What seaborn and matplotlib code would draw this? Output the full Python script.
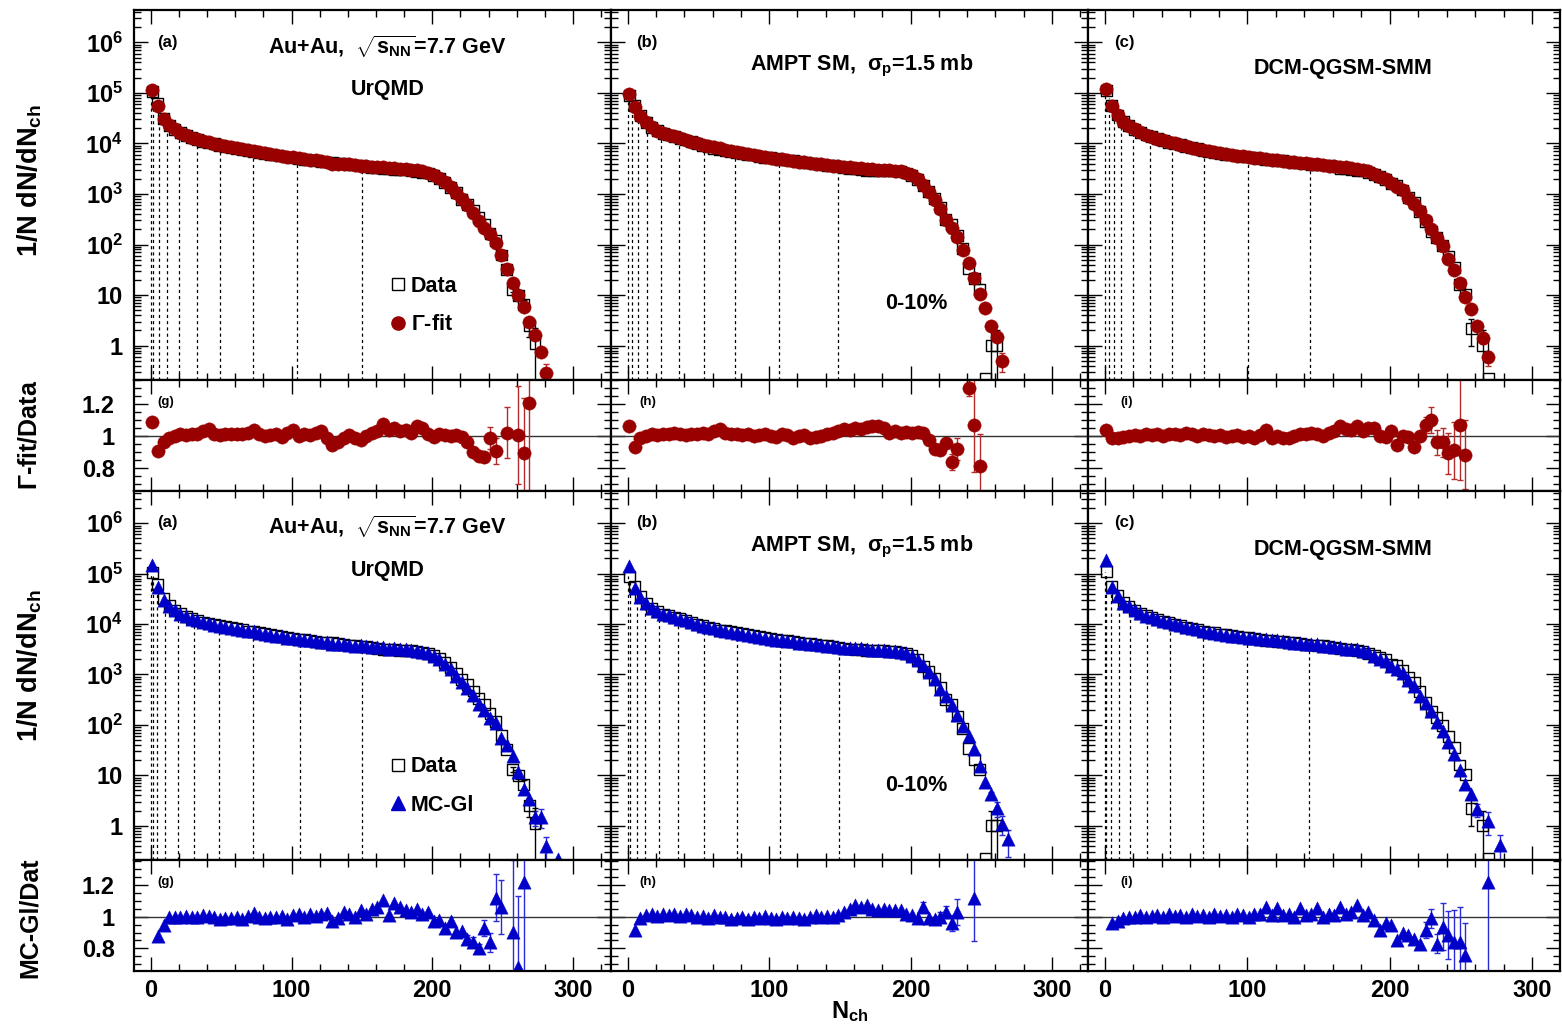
import numpy as np
import pandas as pd
import matplotlib
matplotlib.use("Agg")
import matplotlib.pyplot as plt
import seaborn as sns
from matplotlib.lines import Line2D
from matplotlib.ticker import FixedLocator, MultipleLocator, LogLocator, NullFormatter, FixedFormatter

nan = np.nan

# ------------------------------------------------------------------ data
N_ch = [1, 5, 9, 13, 17, 21, 25, 29, 33, 37,
        41, 45, 49, 53, 57, 61, 65, 69, 73, 77,
        81, 85, 89, 93, 97, 101, 105, 109, 113, 117,
        121, 125, 129, 133, 137, 141, 145, 149, 153, 157,
        161, 165, 169, 173, 177, 181, 185, 189, 193, 197,
        201, 205, 209, 213, 217, 221, 225, 229, 233, 237,
        241, 245, 249, 253, 257, 261, 265, 269, 273, 277,
        281, 285, 289]

# ---- UrQMD
urqmd_data = [1.05e5, 6.1e4, 3.15e4, 2.3e4, 1.9e4, 1.62e4, 1.44e4, 1.3e4, 1.2e4, 1.1e4,
              1.02e4, 9.8e3, 9.3e3, 8.8e3, 8.4e3, 8.0e3, 7.7e3, 7.3e3, 7.0e3, 6.7e3,
              6.45e3, 6.15e3, 5.9e3, 5.65e3, 5.4e3, 5.15e3, 5.05e3, 4.85e3, 4.7e3, 4.55e3,
              4.35e3, 4.3e3, 4.25e3, 4.1e3, 3.95e3, 3.85e3, 3.75e3, 3.65e3, 3.55e3, 3.4e3,
              3.3e3, 3.15e3, 3.15e3, 3.1e3, 3.05e3, 3.0e3, 2.95e3, 2.8e3, 2.7e3, 2.6e3,
              2.35e3, 2.05e3, 1.7e3, 1.35e3, 1.05e3, 790, 630, 470, 340, 250,
              165, 118, 62, 32, 13, 10, 6.5, 2.5, 1.1, nan,
              nan, nan, nan]
urqmd_data_err = {257: 1.5, 261: 1.5, 265: 1.5, 269: 1.0, 273: 1.1}
urqmd_gfit = [1.15e5, 5.5e4, 3.05e4, 2.3e4, 1.9e4, 1.63e4, 1.45e4, 1.31e4, 1.21e4, 1.13e4,
              1.07e4, 9.9e3, 9.35e3, 8.9e3, 8.5e3, 8.1e3, 7.8e3, 7.45e3, 7.2e3, 6.8e3,
              6.45e3, 6.2e3, 5.95e3, 5.6e3, 5.5e3, 5.3e3, 5.05e3, 4.9e3, 4.75e3, 4.65e3,
              4.5e3, 4.25e3, 4.0e3, 3.95e3, 3.9e3, 3.85e3, 3.7e3, 3.55e3, 3.55e3, 3.45e3,
              3.4e3, 3.4e3, 3.3e3, 3.25e3, 3.15e3, 3.1e3, 3.0e3, 3.0e3, 2.85e3, 2.65e3,
              2.35e3, 2.05e3, 1.7e3, 1.35e3, 1.05e3, 790, 610, 420, 295, 215,
              160, 105, 62, 33, 17, 10, 5.8, 3.0, 1.6, 0.75,
              0.29, nan, nan]
urqmd_gfit_err = {281: 0.15}
urqmd_gfit_ratio = [1.085, 0.905, 0.965, 0.99, 1.0, 1.01, 1.005, 1.01, 1.01, 1.03,
                    1.045, 1.01, 1.005, 1.01, 1.01, 1.015, 1.01, 1.02, 1.035, 1.01,
                    1.0, 1.005, 1.01, 0.995, 1.02, 1.035, 1.0, 1.01, 1.005, 1.02,
                    1.03, 0.985, 0.945, 0.96, 0.99, 1.005, 0.99, 0.975, 1.0, 1.02,
                    1.03, 1.075, 1.04, 1.05, 1.03, 1.04, 1.02, 1.06, 1.05, 1.01,
                    0.995, 1.01, 1.005, 1.0, 1.005, 0.995, 0.96, 0.9, 0.875, 0.865,
                    0.985, 0.905, nan, 1.02, nan, 1.006, 0.89, 1.21, nan, nan,
                    nan, nan, nan]
urqmd_gfit_ratio_err = {229: 0.02, 233: 0.03, 237: 0.03, 241: 0.07, 245: 0.08,
                        253: 0.16, 261: 0.31, 265: 0.35, 269: 0.6}
urqmd_mcgl = [1.5e5, 5.35e4, 2.98e4, 2.29e4, 1.89e4, 1.62e4, 1.45e4, 1.29e4, 1.2e4, 1.11e4,
              1.03e4, 9.8e3, 9.15e3, 8.7e3, 8.3e3, 8.0e3, 7.6e3, 7.35e3, 7.2e3, 6.7e3,
              6.4e3, 6.1e3, 5.9e3, 5.7e3, 5.3e3, 5.2e3, 5.15e3, 4.85e3, 4.75e3, 4.55e3,
              4.45e3, 4.4e3, 4.1e3, 4.05e3, 4.05e3, 3.9e3, 3.75e3, 3.8e3, 3.6e3, 3.55e3,
              3.5e3, 3.5e3, 3.2e3, 3.35e3, 3.25e3, 3.15e3, 3.05e3, 2.95e3, 2.75e3, 2.7e3,
              2.3e3, 2.0e3, 1.58e3, 1.3e3, 950, 720, 540, 400, 260, 200,
              140, 110, 56, 40, 24, 11.6, 5.3, 3.4, 1.5, 1.5,
              0.39, nan, 0.22]
urqmd_mcgl_err = {273: 0.5, 277: 0.6, 281: 0.2}
urqmd_mcgl_ratio = [nan, 0.877, 0.947, 0.996, 0.995, 1.0, 1.005, 0.995, 1.0, 1.01,
                    1.005, 1.0, 0.985, 0.99, 0.99, 1.0, 0.985, 1.005, 1.025, 1.0,
                    0.99, 0.995, 1.0, 1.005, 0.985, 1.01, 1.02, 1.0, 1.015, 1.005,
                    1.02, 1.025, 0.97, 0.99, 1.03, 1.015, 1.0, 1.04, 1.02, 1.05,
                    1.06, 1.105, 1.01, 1.085, 1.06, 1.045, 1.03, 1.05, 1.02, 1.03,
                    0.97, 0.98, 0.926, 0.97, 0.905, 0.91, 0.862, 0.84, 0.8, 0.926,
                    0.84, 1.12, 1.06, nan, 0.905, 0.68, 1.22, nan, nan, nan,
                    nan, nan, nan]
urqmd_mcgl_ratio_err = {225: 0.02, 229: 0.03, 233: 0.03, 237: 0.05, 241: 0.06,
                        245: 0.15, 249: 0.17, 257: 0.45, 261: 0.45, 265: 0.6}
urqmd_cuts_gfit = [0, 1.2, 5.9, 11.1, 19.9, 33.1, 49.2, 72.6, 103.8, 150.1]
urqmd_cuts_gfit_top = [1.05e5, 9e4, 4.6e4, 2.8e4, 1.75e4, 1.2e4, 9.4e3, 7.1e3, 5.2e3, 3.6e3]
urqmd_cuts_mcgl = [0, 1.2, 4.5, 9.7, 19.0, 30.5, 48.5, 72.6, 105.7, 150.0]
urqmd_cuts_mcgl_top = [1.05e5, 9e4, 5.8e4, 3.1e4, 1.8e4, 1.25e4, 9.4e3, 7.1e3, 5.1e3, 3.6e3]

# ---- AMPT
ampt_data = [8.75e4, 5.6e4, 3.55e4, 2.6e4, 2.08e4, 1.79e4, 1.58e4, 1.47e4, 1.35e4, 1.27e4,
             1.17e4, 1.08e4, 9.85e3, 9.2e3, 8.7e3, 8.1e3, 7.6e3, 7.35e3, 7.0e3, 6.7e3,
             6.45e3, 6.15e3, 5.9e3, 5.6e3, 5.35e3, 5.2e3, 5.0e3, 4.8e3, 4.7e3, 4.55e3,
             4.35e3, 4.2e3, 4.1e3, 3.95e3, 3.85e3, 3.7e3, 3.6e3, 3.45e3, 3.3e3, 3.2e3,
             3.15e3, 3.1e3, 2.95e3, 2.95e3, 2.95e3, 2.95e3, 2.85e3, 2.85e3, 2.75e3, 2.6e3,
             2.35e3, 1.95e3, 1.47e3, 1.13e3, 830, 550, 315, 250, 150, 85,
             34, 21, 13, 0.22, 1.0, 1.0, nan, nan, nan, nan,
             nan, nan, nan]
ampt_data_err = {257: 0.999, 261: 0.999}
ampt_gfit = [9.3e4, 5.2e4, 3.5e4, 2.6e4, 2.1e4, 1.8e4, 1.6e4, 1.48e4, 1.38e4, 1.28e4,
             1.18e4, 1.09e4, 1.0e4, 9.4e3, 8.8e3, 8.35e3, 7.95e3, 7.5e3, 7.1e3, 6.8e3,
             6.5e3, 6.2e3, 5.9e3, 5.65e3, 5.4e3, 5.2e3, 5.0e3, 4.85e3, 4.7e3, 4.5e3,
             4.35e3, 4.2e3, 4.05e3, 3.95e3, 3.85e3, 3.75e3, 3.65e3, 3.55e3, 3.45e3, 3.35e3,
             3.3e3, 3.2e3, 3.15e3, 3.1e3, 3.05e3, 3.0e3, 2.95e3, 2.9e3, 2.8e3, 2.65e3,
             2.4e3, 2.0e3, 1.5e3, 1.1e3, 760, 500, 300, 210, 140, 78,
             44, 22, 10.5, 5.5, 2.5, 1.5, 0.5, nan, nan, nan,
             nan, nan, nan]
ampt_gfit_err = {265: 0.2}
ampt_gfit_ratio = [1.063, 0.932, 0.985, 1.0, 1.01, 1.005, 1.015, 1.01, 1.02, 1.01,
                   1.005, 1.01, 1.015, 1.02, 1.01, 1.03, 1.045, 1.02, 1.01, 1.015,
                   1.005, 1.01, 1.0, 1.005, 1.01, 1.0, 0.995, 1.01, 1.005, 0.99,
                   1.0, 1.005, 0.99, 0.995, 1.0, 1.01, 1.02, 1.03, 1.045, 1.04,
                   1.05, 1.045, 1.055, 1.06, 1.065, 1.05, 1.02, 1.03, 1.02, 1.025,
                   1.02, 1.025, 1.02, 0.975, 0.92, 0.91, 0.955, 0.835, 0.92, nan,
                   1.3, 1.07, 0.81, nan, nan, nan, nan, nan, nan, nan,
                   nan, nan, nan]
ampt_gfit_ratio_err = {213: 0.02, 217: 0.02, 221: 0.03, 225: 0.03, 229: 0.05,
                       233: 0.07, 241: 0.05, 245: 0.3, 249: 0.2}
ampt_mcgl = [1.4e5, 5.1e4, 3.5e4, 2.63e4, 2.1e4, 1.8e4, 1.6e4, 1.48e4, 1.37e4, 1.28e4,
             1.19e4, 1.09e4, 9.85e3, 9.25e3, 8.6e3, 8.2e3, 7.55e3, 7.35e3, 6.9e3, 6.65e3,
             6.45e3, 6.05e3, 5.85e3, 5.55e3, 5.4e3, 5.15e3, 4.9e3, 4.8e3, 4.65e3, 4.55e3,
             4.3e3, 4.15e3, 4.1e3, 4.0e3, 3.85e3, 3.7e3, 3.6e3, 3.5e3, 3.4e3, 3.35e3,
             3.4e3, 3.3e3, 3.15e3, 3.1e3, 3.05e3, 3.1e3, 2.95e3, 2.95e3, 2.85e3, 2.65e3,
             2.35e3, 1.95e3, 1.55e3, 1.1e3, 820, 520, 380, 250, 160, 95,
             60, 33, 15, 7.5, 4.2, 2.2, 1.1, 0.54, nan, nan,
             nan, nan, nan]
ampt_mcgl_err = {257: 0.5, 261: 0.7, 265: 0.45, 269: 0.3}
ampt_mcgl_ratio = [nan, 0.915, 0.99, 1.01, 1.015, 1.005, 1.02, 1.01, 1.015, 1.005,
                   1.02, 1.01, 1.0, 1.005, 0.99, 1.01, 0.995, 1.0, 0.985, 0.99,
                   1.0, 0.985, 0.995, 0.99, 1.005, 0.99, 0.985, 0.995, 0.99, 1.0,
                   0.99, 0.985, 1.0, 1.01, 0.995, 1.005, 1.0, 1.01, 1.03, 1.05,
                   1.074, 1.06, 1.074, 1.05, 1.04, 1.05, 1.04, 1.045, 1.04, 1.02,
                   1.01, 0.99, 1.063, 0.99, 0.985, 1.0, 1.03, 0.958, 1.03, nan,
                   nan, 1.116, nan, nan, nan, nan, nan, nan, nan, nan,
                   nan, nan, nan]
ampt_mcgl_ratio_err = {209: 0.03, 221: 0.03, 225: 0.04, 229: 0.05, 233: 0.08, 245: 0.27}
ampt_cuts_gfit = [0.4, 2.8, 7.5, 13.4, 23.5, 36.5, 53.7, 76.0, 107.0, 148.4]
ampt_cuts_gfit_top = [8.8e4, 7e4, 3.9e4, 2.6e4, 1.7e4, 1.3e4, 9.4e3, 6.9e3, 5.0e3, 3.6e3]
ampt_cuts_mcgl = [0.4, 1.6, 6.6, 12.4, 22.3, 35.3, 53.7, 77.0, 108.0, 149.5]
ampt_cuts_mcgl_top = [8.8e4, 8e4, 4.3e4, 2.7e4, 1.8e4, 1.3e4, 9.3e3, 6.8e3, 4.9e3, 3.5e3]

# ---- DCM-QGSM-SMM
dcm_data = [1.125e5, 5.6e4, 3.65e4, 2.7e4, 2.25e4, 1.9e4, 1.65e4, 1.47e4, 1.36e4, 1.24e4,
            1.15e4, 1.06e4, 9.85e3, 9.35e3, 8.6e3, 8.2e3, 7.8e3, 7.3e3, 6.95e3, 6.7e3,
            6.35e3, 6.1e3, 5.9e3, 5.65e3, 5.55e3, 5.4e3, 5.25e3, 5.0e3, 4.7e3, 4.8e3,
            4.6e3, 4.55e3, 4.4e3, 4.25e3, 4.1e3, 4.0e3, 3.85e3, 3.8e3, 3.75e3, 3.6e3,
            3.45e3, 3.25e3, 3.2e3, 3.1e3, 2.95e3, 2.9e3, 2.65e3, 2.4e3, 2.2e3, 1.95e3,
            1.6e3, 1.5e3, 1.2e3, 855, 690, 460, 280, 182, 140, 96,
            58, 35, 16, 10.5, 2.2, nan, 1.0, 0.22, nan, nan,
            nan, nan, nan]
dcm_data_err = {257: 1.2, 265: 0.999}
dcm_gfit = [1.17e5, 5.5e4, 3.6e4, 2.7e4, 2.25e4, 1.9e4, 1.65e4, 1.48e4, 1.37e4, 1.25e4,
            1.15e4, 1.07e4, 1.0e4, 9.4e3, 8.8e3, 8.3e3, 7.8e3, 7.35e3, 7.0e3, 6.7e3,
            6.4e3, 6.1e3, 5.9e3, 5.7e3, 5.55e3, 5.4e3, 5.2e3, 5.05e3, 4.9e3, 4.75e3,
            4.6e3, 4.5e3, 4.35e3, 4.25e3, 4.15e3, 4.05e3, 3.95e3, 3.85e3, 3.75e3, 3.65e3,
            3.55e3, 3.45e3, 3.35e3, 3.25e3, 3.15e3, 3.0e3, 2.8e3, 2.5e3, 2.2e3, 1.95e3,
            1.65e3, 1.4e3, 1.2e3, 850, 640, 460, 300, 200, 135, 92,
            52, 32, 17, 9.3, 5.2, 2.4, 1.4, 0.6, nan, nan,
            nan, nan, nan]
dcm_gfit_err = {265: 0.3, 269: 0.2}
dcm_gfit_ratio = [1.04, 0.985, 0.99, 0.995, 1.0, 1.005, 1.0, 1.01, 1.005, 1.01,
                  1.0, 1.01, 1.015, 1.005, 1.02, 1.01, 1.0, 1.01, 1.005, 1.0,
                  1.005, 0.995, 1.0, 1.005, 0.995, 1.0, 0.99, 1.005, 1.04, 0.985,
                  1.0, 0.985, 0.99, 1.0, 1.01, 1.015, 1.02, 1.015, 1.0, 1.02,
                  1.03, 1.06, 1.045, 1.04, 1.06, 1.03, 1.05, 1.05, 1.0, 0.995,
                  1.03, 0.94, 1.0, 0.995, 0.93, 1.0, 1.07, 1.1, 0.96, 0.96,
                  0.89, 0.91, 1.07, 0.883, nan, nan, nan, nan, nan, nan,
                  nan, nan, nan]
dcm_gfit_ratio_err = {225: 0.05, 229: 0.08, 233: 0.08, 237: 0.09, 241: 0.13,
                      245: 0.18, 249: 0.35, 253: 0.22}
dcm_mcgl = [1.9e5, 5.35e4, 3.55e4, 2.67e4, 2.25e4, 1.89e4, 1.67e4, 1.47e4, 1.37e4, 1.25e4,
            1.15e4, 1.08e4, 9.9e3, 9.45e3, 8.6e3, 8.35e3, 7.85e3, 7.35e3, 6.95e3, 6.8e3,
            6.4e3, 6.15e3, 5.9e3, 5.75e3, 5.6e3, 5.4e3, 5.3e3, 5.1e3, 5.0e3, 4.85e3,
            4.85e3, 4.6e3, 4.5e3, 4.25e3, 4.3e3, 4.05e3, 3.95e3, 4.0e3, 3.75e3, 3.65e3,
            3.5e3, 3.45e3, 3.25e3, 3.2e3, 3.15e3, 2.95e3, 2.75e3, 2.35e3, 2.0e3, 1.85e3,
            1.5e3, 1.28e3, 1.08e3, 760, 590, 380, 270, 190, 115, 75,
            45, 26, 13, 6.8, 4.2, 2.1, nan, 1.25, nan, 0.41,
            nan, nan, nan]
dcm_mcgl_err = {261: 0.6, 269: 0.6, 277: 0.25}
dcm_mcgl_ratio = [nan, 0.958, 0.975, 0.99, 1.0, 0.995, 1.01, 1.0, 1.005, 1.01,
                  1.0, 1.015, 1.005, 1.01, 1.0, 1.02, 1.005, 1.01, 1.0, 1.015,
                  1.005, 1.01, 1.0, 1.02, 1.01, 1.0, 1.015, 1.02, 1.063, 1.01,
                  1.053, 1.01, 1.02, 1.0, 1.053, 1.01, 1.02, 1.053, 1.0, 1.02,
                  1.01, 1.063, 1.02, 1.03, 1.074, 1.01, 1.03, 0.98, 0.915, 0.96,
                  0.947, 0.85, 0.9, 0.884, 0.86, 0.83, 0.915, 0.99, 0.83, 0.937,
                  0.884, 0.84, 0.84, 0.757, nan, nan, nan, 1.22, nan, nan,
                  nan, nan, nan]
dcm_mcgl_ratio_err = {225: 0.05, 229: 0.06, 233: 0.06, 237: 0.15, 241: 0.15,
                      245: 0.2, 249: 0.22, 253: 0.2, 269: 0.6}
dcm_cuts_gfit = [0.4, 2.8, 6.5, 11.2, 19.8, 32.0, 47.4, 69.6, 100.5, 143.8]
dcm_cuts_gfit_top = [1.1e5, 8e4, 4.8e4, 3.1e4, 2.0e4, 1.4e4, 1.02e4, 7.3e3, 5.4e3, 4.0e3]
dcm_cuts_mcgl = [0.4, 1.1, 4.6, 9.8, 18.0, 29.7, 46.0, 69.0, 99.8, 143.0]
dcm_cuts_mcgl_top = [1.1e5, 1.0e5, 5.8e4, 3.5e4, 2.1e4, 1.45e4, 1.05e4, 7.3e3, 5.4e3, 4.0e3]

# ---- labels
panel_tags_top = ["(a)", "(b)", "(c)"]
panel_tags_ratio = ["(g)", "(h)", "(i)"]
spec_ticks = [1, 10, 100, 1e3, 1e4, 1e5, 1e6]
spec_tick_labels = ["1", "10", r"$10^{2}$", r"$10^{3}$", r"$10^{4}$", r"$10^{5}$", r"$10^{6}$"]
ratio_ticks = [0.8, 1.0, 1.2]
ratio_tick_labels = ["0.8", "1", "1.2"]
x_ticks = [0, 100, 200, 300]
x_tick_labels = ["0", "100", "200", "300"]

# ------------------------------------------------------------------ style
sns.set_theme(style="ticks")
plt.rcParams.update({
    "font.family": ["Liberation Sans", "DejaVu Sans"],
    "font.weight": "bold",
    "axes.labelweight": "bold",
    "mathtext.fontset": "custom",
    "mathtext.rm": "Liberation Sans:bold",
    "mathtext.it": "Liberation Sans:bold",
    "mathtext.bf": "Liberation Sans:bold",
    "mathtext.sf": "Liberation Sans:bold",
    "axes.edgecolor": "black",
    "text.color": "black",
    "xtick.color": "black",
    "ytick.color": "black",
    "axes.labelcolor": "black",
})

RED = "#990000"
RED_ERR = "#b52a2a"
BLUE = "#0000c8"
BLUE_ERR = "#2a2ad8"
W, H = 1562, 1026
col_px = [(134, 611), (611, 1088), (1088, 1560)]
row_px = [(10, 380), (380, 491), (491, 860), (860, 970.5)]
xlims = [(-12.0, 327.0), (-11.8, 325.5), (-11.7, 319.3)]
spec_ylim = (10 ** -0.68, 10 ** 6.64)
ratio_ylims = [(0.653, 1.353), (0.66, 1.358)]

fig = plt.figure(figsize=(W / 100, H / 100), dpi=100)


def rect(c, r):
    x0, x1 = col_px[c]
    y0, y1 = row_px[r]
    return [x0 / W, 1 - y1 / H, (x1 - x0) / W, (y1 - y0) / H]


N_arr = np.array(N_ch, dtype=float)


def err_of(err_map, vals):
    v = np.array(vals, dtype=float)
    e = np.array([err_map.get(n, 0.0) for n in N_ch])
    return v, e


def draw_errors(ax, vals, err_map, color, log):
    v, e = err_of(err_map, vals)
    m = (e > 0) & ~np.isnan(v)
    if not m.any():
        return
    lo = np.minimum(e[m], 0.999 * v[m]) if log else e[m]
    ax.errorbar(N_arr[m], v[m], yerr=[lo, e[m]], fmt="none", ecolor=color,
                elinewidth=1.0, capsize=2.5, capthick=1.0, zorder=2.5)


def scatter(ax, vals, kind, z):
    df = pd.DataFrame({"Nch": N_arr, "val": np.array(vals, dtype=float)})
    if kind == "data":
        sns.scatterplot(data=df, x="Nch", y="val", ax=ax, marker="s", s=62,
                        color="black", facecolor="none", edgecolor="black",
                        linewidth=1.0, zorder=z, legend=False)
    elif kind == "gfit":
        sns.scatterplot(data=df, x="Nch", y="val", ax=ax, marker="o", s=92,
                        color=RED, edgecolor=RED, linewidth=0.3, zorder=z, legend=False)
    else:
        sns.scatterplot(data=df, x="Nch", y="val", ax=ax, marker="^", s=92,
                        color=BLUE, edgecolor=BLUE, linewidth=0.3, zorder=z, legend=False)
    ax.set_xlabel("")
    ax.set_ylabel("")


def style_axes(ax, c, r):
    ax.set_xlim(*xlims[c])
    for sp in ax.spines.values():
        sp.set_linewidth(1.6)
        sp.set_color("black")
        sp.set_zorder(10)
    ax.xaxis.set_major_locator(FixedLocator(x_ticks))
    ax.xaxis.set_minor_locator(MultipleLocator(20))
    ax.tick_params(axis="both", which="both", direction="in", top=True, right=True,
                   bottom=True, left=True, width=1.0, labelsize=17)
    ax.tick_params(which="major", length=10)
    ax.tick_params(which="minor", length=5)
    ax.tick_params(axis="x", pad=6)
    if r == 3:
        ax.xaxis.set_major_formatter(FixedFormatter(x_tick_labels))
    else:
        ax.tick_params(axis="x", labelbottom=False)
    if c != 0:
        ax.tick_params(axis="y", labelleft=False)
    ax.set_facecolor("white")
    ax.grid(False)


models = [
    dict(data=urqmd_data, data_err=urqmd_data_err,
         gfit=urqmd_gfit, gfit_err=urqmd_gfit_err,
         gr=urqmd_gfit_ratio, gr_err=urqmd_gfit_ratio_err,
         mc=urqmd_mcgl, mc_err=urqmd_mcgl_err,
         mr=urqmd_mcgl_ratio, mr_err=urqmd_mcgl_ratio_err,
         cg=urqmd_cuts_gfit, cgt=urqmd_cuts_gfit_top,
         cm=urqmd_cuts_mcgl, cmt=urqmd_cuts_mcgl_top),
    dict(data=ampt_data, data_err=ampt_data_err,
         gfit=ampt_gfit, gfit_err=ampt_gfit_err,
         gr=ampt_gfit_ratio, gr_err=ampt_gfit_ratio_err,
         mc=ampt_mcgl, mc_err=ampt_mcgl_err,
         mr=ampt_mcgl_ratio, mr_err=ampt_mcgl_ratio_err,
         cg=ampt_cuts_gfit, cgt=ampt_cuts_gfit_top,
         cm=ampt_cuts_mcgl, cmt=ampt_cuts_mcgl_top),
    dict(data=dcm_data, data_err=dcm_data_err,
         gfit=dcm_gfit, gfit_err=dcm_gfit_err,
         gr=dcm_gfit_ratio, gr_err=dcm_gfit_ratio_err,
         mc=dcm_mcgl, mc_err=dcm_mcgl_err,
         mr=dcm_mcgl_ratio, mr_err=dcm_mcgl_ratio_err,
         cg=dcm_cuts_gfit, cgt=dcm_cuts_gfit_top,
         cm=dcm_cuts_mcgl, cmt=dcm_cuts_mcgl_top),
]

TXT = 15.5
for c, m in enumerate(models):
    for r in range(4):
        ax = fig.add_axes(rect(c, r))
        if r in (0, 2):
            model = m["gfit"] if r == 0 else m["mc"]
            model_err = m["gfit_err"] if r == 0 else m["mc_err"]
            cuts = m["cg"] if r == 0 else m["cm"]
            tops = m["cgt"] if r == 0 else m["cmt"]
            ax.set_yscale("log")
            ax.vlines(cuts, spec_ylim[0], tops, colors="black",
                      linestyles=(0, (2.5, 2.5)), linewidth=0.9, zorder=1)
            draw_errors(ax, m["data"], m["data_err"], "black", True)
            scatter(ax, m["data"], "data", 3)
            draw_errors(ax, model, model_err, RED_ERR if r == 0 else BLUE_ERR, True)
            scatter(ax, model, "gfit" if r == 0 else "mcgl", 4)
            ax.set_ylim(*spec_ylim)
            style_axes(ax, c, r)
            ax.yaxis.set_major_locator(FixedLocator(spec_ticks))
            ax.yaxis.set_minor_locator(LogLocator(base=10, subs=np.arange(2, 10), numticks=20))
            ax.yaxis.set_minor_formatter(NullFormatter())
            if c == 0:
                ax.yaxis.set_major_formatter(FixedFormatter(spec_tick_labels))
                ax.tick_params(axis="y", pad=8)
            else:
                ax.yaxis.set_major_formatter(NullFormatter())
            # panel texts
            off = 0 if r == 0 else 1
            ax.text([0.048, 0.052, 0.055][c], [0.901, 0.903][off], panel_tags_top[c],
                    transform=ax.transAxes, fontsize=12, ha="left", va="baseline")
            if c == 0:
                ax.text(0.531, [0.883, 0.885][off], r"Au+Au,  $\sqrt{\mathrm{s}_{\mathrm{NN}}}$=7.7 GeV",
                        transform=ax.transAxes, fontsize=TXT, ha="center", va="baseline")
                ax.text(0.531, 0.770, "UrQMD", transform=ax.transAxes, fontsize=TXT,
                        ha="center", va="baseline")
                if r == 0:
                    handles = [Line2D([], [], marker="s", ls="none", mfc="none", mec="black", ms=8, mew=1.0),
                               Line2D([], [], marker="o", ls="none", color=RED, ms=9.5)]
                    labels = ["Data", r"$\Gamma$-fit"]
                else:
                    handles = [Line2D([], [], marker="s", ls="none", mfc="none", mec="black", ms=8, mew=1.0),
                               Line2D([], [], marker="^", ls="none", color=BLUE, ms=9.5)]
                    labels = ["Data", "MC-Gl"]
                ax.legend(handles, labels, loc="upper left", bbox_to_anchor=(0.533, 0.281),
                          frameon=False, fontsize=TXT, handlelength=0.9, handletextpad=0.15,
                          labelspacing=0.8, borderpad=0, borderaxespad=0)
            elif c == 1:
                ax.text(0.525, 0.836, r"AMPT SM,  $\sigma_{\mathrm{p}}$=1.5 mb",
                        transform=ax.transAxes, fontsize=TXT, ha="center", va="baseline")
                ax.text(0.640, [0.191, 0.187][off], "0-10%", transform=ax.transAxes,
                        fontsize=TXT, ha="center", va="baseline")
            else:
                ax.text(0.541, 0.827, "DCM-QGSM-SMM", transform=ax.transAxes,
                        fontsize=TXT, ha="center", va="baseline")
        else:
            ratio = m["gr"] if r == 1 else m["mr"]
            ratio_err = m["gr_err"] if r == 1 else m["mr_err"]
            ax.axhline(1.0, color="#333333", linewidth=1.0, zorder=1)
            draw_errors(ax, ratio, ratio_err, RED_ERR if r == 1 else BLUE_ERR, False)
            scatter(ax, ratio, "gfit" if r == 1 else "mcgl", 4)
            ax.set_ylim(*ratio_ylims[0 if r == 1 else 1])
            style_axes(ax, c, r)
            ax.yaxis.set_major_locator(FixedLocator(ratio_ticks))
            ax.yaxis.set_minor_locator(MultipleLocator(0.05))
            ax.yaxis.set_minor_formatter(NullFormatter())
            if c == 0:
                ax.yaxis.set_major_formatter(FixedFormatter(ratio_tick_labels))
                ax.tick_params(axis="y", pad=14)
            else:
                ax.yaxis.set_major_formatter(NullFormatter())
            ax.text([0.048, 0.059, 0.068][c], 0.775, panel_tags_ratio[c],
                    transform=ax.transAxes, fontsize=9.5, ha="left", va="baseline")

# axis titles
fig.text(30 / W, 1 - 181 / H, r"1/N dN/dN$_{\mathrm{ch}}$", rotation=90, ha="center", va="center", fontsize=19.5)
fig.text(30 / W, 1 - 666 / H, r"1/N dN/dN$_{\mathrm{ch}}$", rotation=90, ha="center", va="center", fontsize=19.5)
fig.text(30 / W, 1 - 435 / H, r"$\Gamma$-fit/Data", rotation=90, ha="center", va="center", fontsize=18)
fig.text(30 / W, 1 - 918 / H, "MC-Gl/Dat", rotation=90, ha="center", va="center", fontsize=18)
fig.text(850 / W, 1 - 1012 / H, r"N$_{\mathrm{ch}}$", ha="center", va="center", fontsize=17)

fig.savefig("out.png", dpi=100, facecolor="white")
